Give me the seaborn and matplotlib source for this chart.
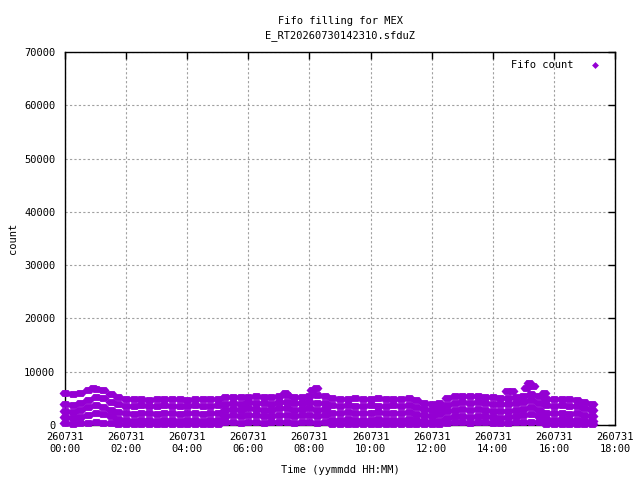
import numpy as np
import pandas as pd
import matplotlib
matplotlib.use("Agg")
import matplotlib.pyplot as plt
import matplotlib.dates as mdates
from matplotlib.lines import Line2D
import seaborn as sns

# sampling clock of the fifo log (every 15 min)
sample_times = pd.date_range("2026-07-31 00:00", "2026-07-31 17:15", freq="15min")

# fifo count levels, one list per visible band
band_top = [6000, 5800, 6000, 6500, 6800, 6600, 5900, 5300, 4900, 4800,
            4900, 4700, 4900, 4800, 4900, 4800, 4700, 4900, 4900, 4800,
            4900, 5200, 5300, 5200, 5300, 5400, 5300, 5200, 5400, 5600,
            5300, 5300, 5400, 5600, 5400, 5000, 4900, 4800, 5000, 4900,
            4800, 5000, 4900, 4800, 4900, 5000, 4700, 4100, 4000, 4200,
            5000, 5400, 5500, 5400, 5500, 5300, 5200, 5100, 5100, 5300,
            5500, 5800, 5500, 4900, 4800, 4900, 4800, 4700, 4300, 3900]
band_3 = [4000, 3800, 4100, 4700, 5200, 5000, 4300, 3900, 3600, 3500,
          3700, 3500, 3600, 3700, 3500, 3600, 3500, 3700, 3600, 3500,
          3700, 4000, 4200, 4000, 4300, 4200, 4100, 4000, 4300, 4400,
          4100, 4200, 4300, 4100, 4200, 3700, 3600, 3700, 3500, 3600,
          3700, 3600, 3500, 3700, 3600, 3700, 3400, 3000, 2800, 3100,
          3800, 4200, 4300, 4100, 4300, 4200, 4000, 3900, 4000, 4100,
          4300, 4600, 4200, 3700, 3600, 3700, 3500, 3600, 3200, 2900]
band_2 = [2700, 2500, 2800, 3300, 3700, 3400, 2900, 2500, 2200, 2100,
          2300, 2200, 2100, 2300, 2200, 2100, 2200, 2300, 2100, 2200,
          2300, 2900, 3000, 2800, 3100, 3000, 2900, 2800, 3100, 3100,
          2900, 3000, 3100, 2900, 3000, 2300, 2200, 2400, 2200, 2300,
          2200, 2400, 2300, 2200, 2300, 2400, 2100, 1900, 1700, 2000,
          2600, 2900, 3000, 2800, 3000, 2900, 2700, 2600, 2700, 2800,
          3000, 3300, 2900, 2300, 2200, 2300, 2100, 2200, 1900, 1700]
band_1 = [1500, 1300, 1500, 1900, 2300, 2000, 1600, 1200, 900, 800,
          900, 850, 800, 950, 900, 800, 850, 900, 800, 900,
          850, 1700, 1800, 1600, 1900, 1800, 1700, 1600, 1800, 1900,
          1700, 1800, 1900, 1700, 1800, 1000, 900, 1100, 900, 1000,
          900, 1100, 1000, 900, 1000, 1100, 900, 700, 600, 800,
          1400, 1600, 1700, 1500, 1700, 1600, 1500, 1400, 1500, 1600,
          1800, 2000, 1700, 1100, 1000, 1100, 900, 1000, 800, 700]
band_0 = [300, 200, 300, 400, 500, 400, 300, 200, 150, 100,
          150, 100, 150, 100, 150, 100, 150, 100, 150, 100,
          150, 500, 550, 450, 550, 500, 450, 500, 550, 500,
          450, 550, 500, 450, 500, 150, 100, 150, 100, 150,
          100, 150, 100, 150, 100, 150, 100, 100, 100, 100,
          400, 500, 550, 450, 550, 500, 450, 400, 450, 500,
          550, 600, 500, 150, 100, 150, 100, 150, 100, 100]

# isolated high readings above the bands
peak_times = pd.to_datetime(["2026-07-31 00:55", "2026-07-31 07:12", "2026-07-31 08:05",
                             "2026-07-31 08:12", "2026-07-31 14:28", "2026-07-31 14:38",
                             "2026-07-31 15:05", "2026-07-31 15:12", "2026-07-31 15:18",
                             "2026-07-31 15:40"])
peak_counts = [7000, 6000, 6600, 7000, 6300, 6300, 6900, 7900, 7400, 6000]

frames = [pd.DataFrame({"time": sample_times, "count": b})
          for b in (band_0, band_1, band_2, band_3, band_top)]
frames.append(pd.DataFrame({"time": peak_times, "count": peak_counts}))
df = pd.concat(frames, ignore_index=True)

purple = "#9400d3"
# flat blunt diamond so that neighbouring readings merge into a band
blob = [(-2, 0), (-1, 1.15), (1, 1.15), (2, 0), (1, -1.15), (-1, -1.15), (-2, 0)]

sns.set_style("white")
plt.rcParams["font.family"] = ["DejaVu Sans Mono"]
plt.rcParams["font.size"] = 7.5
plt.rcParams["text.color"] = "black"
plt.rcParams["axes.labelcolor"] = "black"

fig = plt.figure(figsize=(6.4, 4.8), dpi=100)
ax = fig.add_axes([65 / 640, 1 - 425 / 480, 550 / 640, 373 / 480])

sns.scatterplot(data=df, x="time", y="count", ax=ax, color=purple, marker=blob,
                s=74, linewidth=0, legend=False, clip_on=False, zorder=3)

ax.set_xlim(pd.Timestamp("2026-07-31 00:00"), pd.Timestamp("2026-07-31 18:00"))
ax.set_ylim(0, 70000)
ax.set_yticks(range(0, 70001, 10000))
ax.xaxis.set_major_locator(mdates.HourLocator(interval=2))
ax.xaxis.set_major_formatter(mdates.DateFormatter("%y%m%d\n%H:%M"))

ax.grid(True, color="#a0a0a0", linestyle=(0, (2, 2)), linewidth=0.8)
ax.set_axisbelow(True)
ax.tick_params(direction="in", length=5, width=1, top=True, right=True,
               colors="black", labelsize=7.5)
ax.tick_params(axis="y", pad=7)
ax.tick_params(axis="x", pad=5)
for sp in ax.spines.values():
    sp.set_color("black")
    sp.set_linewidth(1)

ax.set_title("Fifo filling for MEX\nE_RT20260730142310.sfduZ", fontsize=7.5, pad=10,
             linespacing=1.5)
ax.set_xlabel("Time (yymmdd HH:MM)", labelpad=8)
ax.set_ylabel("count", labelpad=4)

handle = Line2D([], [], marker="D", color=purple, linestyle="", markersize=3.5,
                markeredgewidth=0)
ax.legend([handle], ["Fifo count"], loc="upper right", frameon=False, markerfirst=False,
          handlelength=2.3, handletextpad=0.9, borderaxespad=0.4, fontsize=7.5)

fig.savefig("out.png", dpi=100)
